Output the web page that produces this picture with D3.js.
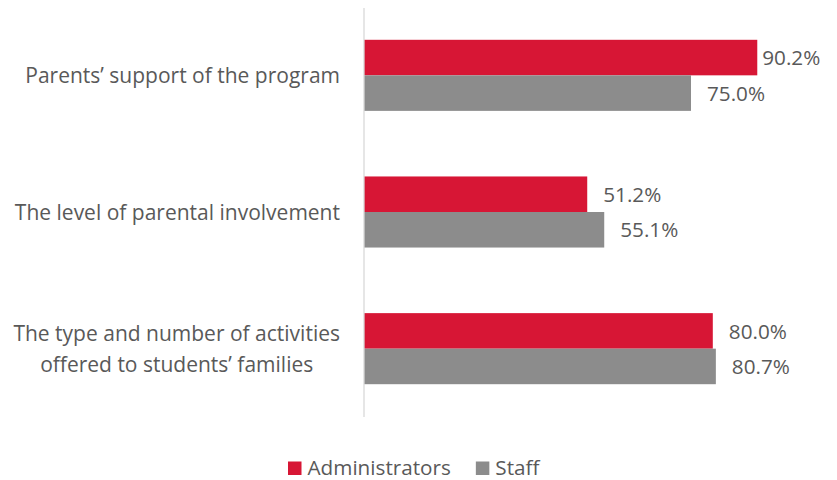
<!DOCTYPE html>
<html>
<head>
<meta charset="utf-8">
<script src="https://cdn.jsdelivr.net/npm/d3@7"></script>
<style>
  html, body { margin: 0; padding: 0; background: #ffffff; }
  svg { display: block; }
  text { font-family: "Open Sans", "Liberation Sans", sans-serif; fill: #595959; }
</style>
</head>
<body>
<svg id="chart" width="837" height="480"></svg>
<script>
// Survey items (each item may span several lines)
const categories = [
  ["Parents\u2019 support of the program"],
  ["The level of parental involvement"],
  ["The type and number of activities", "offered to students\u2019 families"]
];
const seriesNames = ["Administrators", "Staff"];
const administrators = [90.2, 51.2, 80.0];
const staff = [75.0, 55.1, 80.7];
const colors = ["#D71635", "#8C8C8C"];

const svg = d3.select("#chart");
const W = 837, H = 480;
const margin = { left: 364, right: 37, top: 7, bottom: 63 };
const fontSize = 20.7;
const categorySize = 21;
const labelLimit = W - 19;   // value labels are kept inside this edge

const x = d3.scaleLinear().domain([0, 100]).range([margin.left, W - margin.right]);
const y = d3.scaleBand().domain(d3.range(categories.length))
  .range([margin.top, H - margin.bottom]).paddingInner(0.48).paddingOuter(0.24);
const ySub = d3.scaleBand().domain(seriesNames).range([0, y.bandwidth()]);

const series = [administrators, staff];

// bars and value labels
seriesNames.forEach((name, si) => {
  const g = svg.append("g");
  g.selectAll("rect").data(series[si]).join("rect")
    .attr("x", x(0))
    .attr("y", (d, i) => y(i) + ySub(name))
    .attr("width", d => x(d) - x(0))
    .attr("height", ySub.bandwidth())
    .attr("fill", colors[si]);
  g.selectAll("text").data(series[si]).join("text")
    .attr("y", (d, i) => y(i) + ySub(name) + ySub.bandwidth() / 2)
    .attr("dy", "0.37em")
    .attr("font-size", fontSize)
    .text(d => d.toFixed(1) + "%")
    .attr("x", function (d) {
      const w = this.getComputedTextLength();
      return Math.max(x(d) + 5, Math.min(x(d) + 16, labelLimit - w));
    });
});

// vertical axis line
svg.append("line")
  .attr("x1", x(0)).attr("x2", x(0))
  .attr("y1", margin.top + 1).attr("y2", H - margin.bottom)
  .attr("stroke", "#D9D9D9").attr("stroke-width", 1.3);

// category labels: block right edge aligned, lines centred within the block
const labelRight = x(0) - 24;
const lineH = 31;
categories.forEach((lines, i) => {
  const cy = y(i) + y.bandwidth() / 2;
  const g = svg.append("g");
  const texts = lines.map((ln, k) => g.append("text")
    .attr("font-size", categorySize)
    .attr("text-anchor", "middle")
    .attr("dy", "0.38em")
    .attr("y", cy + (k - (lines.length - 1) / 2) * lineH)
    .text(ln));
  const maxW = d3.max(texts, t => t.node().getComputedTextLength());
  texts.forEach(t => t.attr("x", labelRight - maxW / 2));
});

// legend
const legend = svg.append("g");
let lx = 288;
seriesNames.forEach((name, si) => {
  legend.append("rect").attr("x", lx).attr("y", 461.5).attr("width", 13.5).attr("height", 13.5).attr("fill", colors[si]);
  const t = legend.append("text").attr("x", lx + 19.5).attr("y", 475)
    .attr("font-size", fontSize).text(name);
  lx += 19.5 + t.node().getComputedTextLength() + 25;
});
</script>
</body>
</html>
